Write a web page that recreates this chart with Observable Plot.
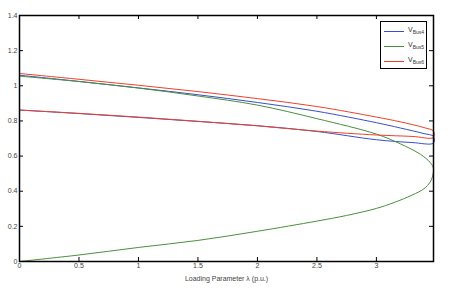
<!DOCTYPE html>
<html>
<head>
<meta charset="utf-8">
<script src="https://cdn.jsdelivr.net/npm/d3@7"></script>
<script src="https://cdn.jsdelivr.net/npm/@observablehq/plot@0.6"></script>
<style>
  html, body { margin: 0; padding: 0; background: #fff; }
  #wrap { position: relative; width: 454px; height: 288px; }
  #legend { position: absolute; left: 380px; top: 21px; width: 47px; height: 48px;
    border: 1px solid #000; background: #fff; box-sizing: border-box;
    font-family: "Liberation Sans", Arial, sans-serif; color: #333; }
  .item { position: absolute; left: 2px; height: 10px; width: 44px; }
  .sw { position: absolute; left: 1px; top: 4px; }
  .lb { position: absolute; left: 25px; top: 0px; font-size: 7px; line-height: 8px; white-space: nowrap; }
  .lb sub { font-size: 5px; vertical-align: -2px; line-height: 0; }
</style>
</head>
<body>
<div id="wrap"></div>
<script>
// ---- data ----
const xTicks = [0, 0.5, 1, 1.5, 2, 2.5, 3];
const yTicks = [0, 0.2, 0.4, 0.6, 0.8, 1, 1.2, 1.4];
const seriesNames = ["Bus4", "Bus5", "Bus6"];
const seriesColors = ["#3550c8", "#4b8f3e", "#f0402a"];

// upper branches (lambda increasing)
const lambdaUp = [0, 0.5, 1, 1.5, 2, 2.5, 3, 3.2, 3.4, 3.48];
const bus4Up = [1.06, 1.025, 0.988, 0.949, 0.905, 0.855, 0.79, 0.76, 0.728, 0.712];
const bus6Up = [1.07, 1.037, 1.003, 0.967, 0.927, 0.882, 0.822, 0.795, 0.762, 0.742];
// lower branches (lambda decreasing, back from the nose)
const lambdaLow = [3.48, 3.3, 3.0, 2.5, 2.0, 1.5, 1.0, 0.5, 0];
const bus4Low = [0.674, 0.677, 0.693, 0.74, 0.773, 0.797, 0.82, 0.842, 0.862];
const bus6Low = [0.706, 0.712, 0.72, 0.742, 0.772, 0.798, 0.822, 0.843, 0.862];

const lambdaUp5 = [0, 0.5, 1, 1.5, 2, 2.5, 3, 3.2, 3.37, 3.45, 3.48];
const bus5Up = [1.055, 1.024, 0.987, 0.942, 0.89, 0.813, 0.725, 0.67, 0.61, 0.565, 0.53];
const lambdaLow5 = [3.47, 3.45, 3.4, 3.3, 3.15, 3.0, 2.75, 2.5, 2.0, 1.5, 1.0, 0.5, 0];
const bus5Low = [0.48, 0.45, 0.414, 0.378, 0.336, 0.302, 0.262, 0.23, 0.172, 0.12, 0.08, 0.037, 0];

// ---- build tables ----
function branch(name, xs, ys) { return xs.map((x, i) => ({name, x, y: ys[i]})); }
const bus4 = [...branch("Bus4", lambdaUp, bus4Up), ...branch("Bus4", lambdaLow, bus4Low)];
const bus5 = [...branch("Bus5", lambdaUp5, bus5Up), ...branch("Bus5", lambdaLow5, bus5Low)];
const bus6 = [...branch("Bus6", lambdaUp, bus6Up), ...branch("Bus6", lambdaLow, bus6Low)];

const W = 454, H = 288, mL = 19, mR = 21, mT = 15, mB = 27;
const fh = H - mT - mB, fw = W - mL - mR, tk = 4;

const lineOpts = {x: "x", y: "y", strokeWidth: 1, curve: "catmull-rom"};

const chart = Plot.plot({
  width: W, height: H,
  marginLeft: mL, marginRight: mR, marginTop: mT, marginBottom: mB,
  style: {fontFamily: "'Liberation Sans', Arial, sans-serif", fontSize: "7px", background: "#fff", color: "#333"},
  x: {domain: [0, 3.48]},
  y: {domain: [0, 1.4]},
  marks: [
    Plot.line(bus4, {...lineOpts, stroke: seriesColors[0]}),
    Plot.line(bus5, {...lineOpts, stroke: seriesColors[1]}),
    Plot.line(bus6, {...lineOpts, stroke: seriesColors[2]}),
    // inward ticks on all four sides
    Plot.ruleX(xTicks, {x: d => d, insetTop: fh - tk, stroke: "#000"}),
    Plot.ruleX(xTicks, {x: d => d, insetBottom: fh - tk, stroke: "#000"}),
    Plot.ruleY(yTicks, {y: d => d, insetRight: fw - tk, stroke: "#000"}),
    Plot.ruleY(yTicks, {y: d => d, insetLeft: fw - tk, stroke: "#000"}),
    Plot.axisX({ticks: xTicks, tickSize: 0, tickPadding: 2, tickFormat: d => String(d), fill: "#444",
      label: "Loading Parameter λ (p.u.)", labelAnchor: "center", labelArrow: "none", labelOffset: 19}),
    Plot.axisY({ticks: yTicks, tickSize: 0, tickPadding: 2, tickFormat: d => String(d), fill: "#444", label: null}),
    Plot.frame({stroke: "#000", strokeWidth: 1.5})
  ]
});

const wrap = document.getElementById("wrap");
wrap.appendChild(chart);

// legend
const legend = document.createElement("div");
legend.id = "legend";
seriesNames.forEach((n, i) => {
  const it = document.createElement("div");
  it.className = "item";
  it.style.top = (4 + i * 15) + "px";
  const sw = document.createElementNS("http://www.w3.org/2000/svg", "svg");
  sw.setAttribute("class", "sw");
  sw.setAttribute("width", "20");
  sw.setAttribute("height", "3");
  const ln = document.createElementNS("http://www.w3.org/2000/svg", "line");
  ln.setAttribute("x1", "0"); ln.setAttribute("x2", "20");
  ln.setAttribute("y1", "1.5"); ln.setAttribute("y2", "1.5");
  ln.setAttribute("stroke", seriesColors[i]);
  ln.setAttribute("stroke-width", "1");
  sw.appendChild(ln);
  const lb = document.createElement("div");
  lb.className = "lb";
  lb.innerHTML = "V<sub>" + n + "</sub>";
  it.appendChild(sw); it.appendChild(lb);
  legend.appendChild(it);
});
wrap.appendChild(legend);
</script>
</body>
</html>
